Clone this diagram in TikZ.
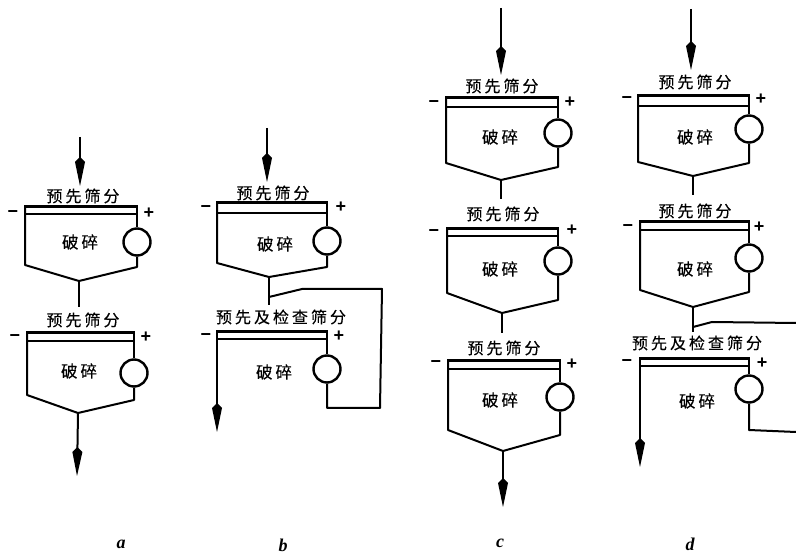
\documentclass[tikz,border=0pt]{standalone}
\usepackage{fontspec}
\setmainfont{Liberation Serif}
\newfontfamily\cjk{Noto Sans CJK SC}[FakeBold=0.35]
\newfontfamily\signfont{Liberation Sans}
\usetikzlibrary{arrows.meta}
\tikzset{
  wall/.style={draw=black,line width=2pt,line join=round},
  topline/.style={draw=black,line width=3pt},
  subline/.style={draw=black,line width=2.1pt},
  lineflow/.style={draw=black,line width=2pt,line join=round},
  feed/.style={draw=black,line width=2pt,-{Kite[length=29pt,width=10pt,inset=5pt]}},
  mill/.style={circle,draw=black,line width=2.4pt,minimum size=27pt,inner sep=0pt,fill=white},
  titlelab/.style={font=\cjk\fontsize{16}{16}\selectfont,inner sep=0pt},
  crushlab/.style={font=\cjk\fontsize{16.5}{17}\selectfont,inner sep=0pt},
  signlab/.style={font=\signfont\bfseries\fontsize{18}{18}\selectfont,inner sep=0pt},
  caselab/.style={font=\bfseries\itshape\fontsize{18}{18}\selectfont,inner sep=0pt}
}
% #1 id, #2 xL, #3 yT, #4 y2, #5 xR, #6 cy
\newcommand{\screendeck}[6]{%
  \coordinate (#1-tl) at (#2,#3);
  \coordinate (#1-tr) at (#5,#3);
  \coordinate (#1-sl) at (#2,#4);
  \coordinate (#1-sr) at (#5,#4);
  \node[mill] (#1-m) at (#5,#6) {};
  \draw[topline] ([xshift=-1pt]#1-tl) -- ([xshift=1pt]#1-tr);
  \draw[subline] (#1-sl) -- (#1-sr);
  \draw[wall] (#1-tr) -- (#1-m.north);
}
% #1 id, #2 yBL, #3 yBR, #4 tipx, #5 tipy
\newcommand{\hopperbody}[5]{%
  \coordinate (#1-tip) at (#4,#5);
  \draw[wall] (#1-tl) -- (#1-tl |- 0,#2) coordinate (#1-bl) -- (#1-tip)
     -- (#1-tr |- 0,#3) coordinate (#1-br) -- (#1-m.south);
}
% #1 id, #2 title, #3 title pos, #4 crush pos, #5 minus pos, #6 plus pos
\newcommand{\unitlabels}[6]{%
  \node[titlelab] (#1-title) at (#3) {#2};
  \node[crushlab] (#1-crush) at (#4) {破\hspace{3pt}碎};
  \node[signlab] (#1-minus) at (#5) {−};
  \node[signlab] (#1-plus) at (#6) {+};
}
\newcommand{\ysxf}{预\hspace{3pt}先\hspace{3pt}筛\hspace{3pt}分}
\newcommand{\yjjc}{预\hspace{3pt}先\hspace{3pt}及\hspace{3pt}检\hspace{3pt}查\hspace{3pt}筛\hspace{3pt}分}
\begin{document}
\begin{tikzpicture}[x=1pt,y=-1pt]
\useasboundingbox (0,0) rectangle (796,553);
% ---- a
\screendeck{a1}{25}{207}{214}{137}{242}
\hopperbody{a1}{265}{267}{79}{281}
\unitlabels{a1}{\ysxf}{83,196}{80,242}{13,214}{149,213}
\screendeck{a2}{27}{333}{341}{134}{373}
\hopperbody{a2}{395}{400}{78}{413}
\unitlabels{a2}{\ysxf}{83,320}{79,371}{15,338}{146,337}
\coordinate (a-in) at (80,137); \coordinate (a-ine) at (80,186);
\coordinate (a-j) at (79,307);
\coordinate (a-out) at (77,476);
\draw[feed] (a-in) -- (a-ine);
\draw[lineflow] (a1-tip) -- (a-j);
\draw[feed] (a2-tip) -- (a-out);
% ---- b
\screendeck{b1}{217}{203}{213}{327}{241}
\hopperbody{b1}{263}{267}{269}{277}
\unitlabels{b1}{\ysxf}{273,193}{275,244}{206,209}{341,207}
\screendeck{b2}{217}{332}{339}{327}{369}
\unitlabels{b2}{\yjjc}{281,317}{274,372}{206,337}{339,336}
\coordinate (b-in) at (267,128); \coordinate (b-ine) at (267,182);
\coordinate (b-j) at (269,305); \coordinate (b-k) at (269,297);
\coordinate (b-out) at (217,432);
\coordinate (b-r1) at (302,289); \coordinate (b-r2) at (382,289);
\coordinate (b-r3) at (380,408); \coordinate (b-r4) at (327,408);
\draw[feed] (b-in) -- (b-ine);
\draw[lineflow] (b1-tip) -- (b-j);
\draw[lineflow] (b-k) -- (b-r1) -- (b-r2) -- (b-r3) -- (b-r4) -- (b2-m.south);
\draw[feed] (b2-tl) -- (b-out);
% ---- c
\screendeck{c1}{446}{98}{107}{558}{133}
\hopperbody{c1}{163}{167}{501}{180}
\unitlabels{c1}{\ysxf}{502,86}{500,137}{434,104}{570,102}
\screendeck{c2}{447}{229}{236}{558}{261}
\hopperbody{c2}{293}{300}{502}{313}
\unitlabels{c2}{\ysxf}{503,214}{500,269}{434,233}{572,230}
\screendeck{c3}{448}{361}{369}{560}{397}
\hopperbody{c3}{430}{435}{503}{451}
\unitlabels{c3}{\ysxf}{504,348}{500,400}{436,364}{572,364}
\coordinate (c-in) at (501,8); \coordinate (c-ine) at (501,75);
\coordinate (c-j1) at (501,199); \coordinate (c-j2) at (502,333);
\coordinate (c-out) at (503,507);
\draw[feed] (c-in) -- (c-ine);
\draw[lineflow] (c1-tip) -- (c-j1);
\draw[lineflow] (c2-tip) -- (c-j2);
\draw[feed] (c3-tip) -- (c-out);
% ---- d
\screendeck{d1}{638}{96}{106}{749}{129}
\hopperbody{d1}{162}{163}{693}{176}
\unitlabels{d1}{\ysxf}{695,82}{695,137}{627,100}{761,99}
\screendeck{d2}{640}{222}{230}{749}{258}
\hopperbody{d2}{290}{292}{693}{307}
\unitlabels{d2}{\ysxf}{695,211}{695,269}{628,228}{759,227}
\screendeck{d3}{640}{359}{366}{749}{389}
\unitlabels{d3}{\yjjc}{697,343}{697,401}{627,363}{762,363}
\coordinate (d-in) at (691,9); \coordinate (d-ine) at (691,70);
\coordinate (d-j1) at (693,195); \coordinate (d-j2) at (693,332);
\coordinate (d-k) at (693,327); \coordinate (d-r1) at (712,322);
\coordinate (d-r2) at (796,323);
\coordinate (d-s1) at (749,430); \coordinate (d-s2) at (796,432);
\coordinate (d-out) at (640,467);
\draw[feed] (d-in) -- (d-ine);
\draw[lineflow] (d1-tip) -- (d-j1);
\draw[lineflow] (d2-tip) -- (d-j2);
\draw[lineflow] (d-k) -- (d-r1) -- (d-r2);
\draw[lineflow] (d3-m.south) -- (d-s1) -- (d-s2);
\draw[feed] (d3-tl) -- (d-out);
% ---- case letters
\node[caselab] (la) at (121,544) {a};
\node[caselab] (lb) at (283,545) {b};
\node[caselab] (lc) at (500,543) {c};
\node[caselab] (ld) at (690,544) {d};
\end{tikzpicture}
\end{document}
